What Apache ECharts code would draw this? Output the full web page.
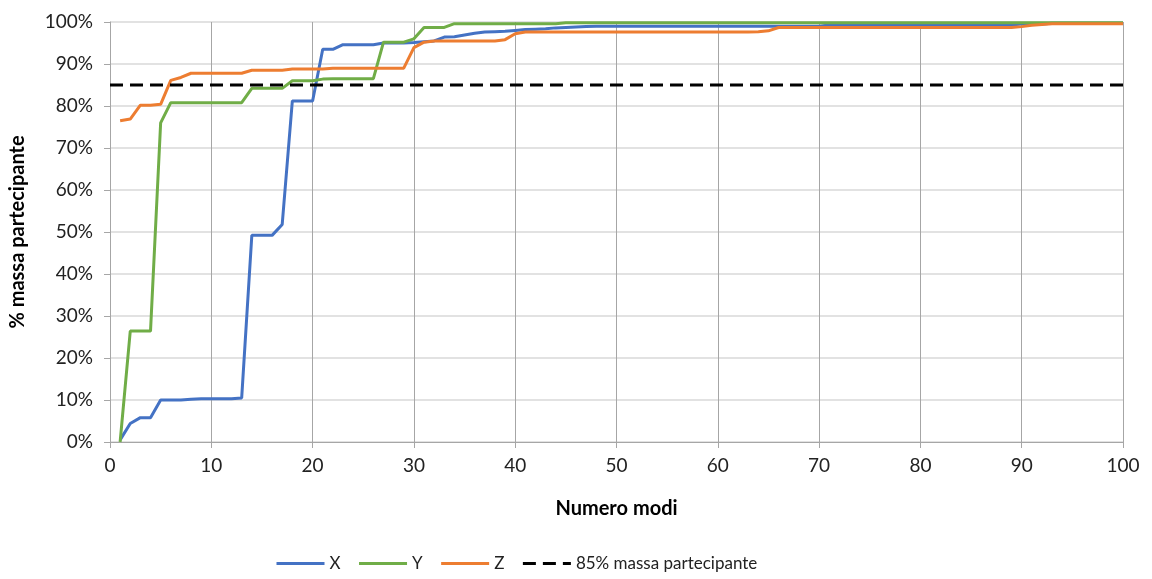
<!DOCTYPE html>
<html>
<head>
<meta charset="utf-8">
<script src="https://cdn.jsdelivr.net/npm/echarts@6/dist/echarts.min.js"></script>
<style>
html,body{margin:0;padding:0;background:#fff;}
#c{width:1152px;height:579px;}
</style>
</head>
<body>
<div id="c"></div>
<script>
const modes = [1,2,3,4,5,6,7,8,9,10,11,12,13,14,15,16,17,18,19,20,
21,22,23,24,25,26,27,28,29,30,31,32,33,34,35,36,37,38,39,40,
41,42,43,44,45,46,47,48,49,50,51,52,53,54,55,56,57,58,59,60,
61,62,63,64,65,66,67,68,69,70,71,72,73,74,75,76,77,78,79,80,
81,82,83,84,85,86,87,88,89,90,91,92,93,94,95,96,97,98,99,100];

const seriesX = [0.5,4.4,5.8,5.8,10.0,10.0,10.0,10.2,10.3,10.3,
10.3,10.3,10.5,49.2,49.2,49.2,51.8,81.2,81.2,81.2,
93.5,93.5,94.6,94.6,94.6,94.6,95.0,95.0,95.0,95.1,
95.3,95.5,96.4,96.5,96.9,97.3,97.6,97.7,97.8,98.0,
98.2,98.3,98.4,98.6,98.7,98.8,98.9,99.0,99.0,99.0,
99.0,99.0,99.0,99.0,99.0,99.0,99.0,99.0,99.0,99.0,
99.0,99.0,99.0,99.0,99.0,99.0,99.0,99.0,99.0,99.0,
99.3,99.3,99.3,99.3,99.3,99.3,99.3,99.3,99.3,99.3,
99.3,99.3,99.3,99.3,99.3,99.3,99.3,99.3,99.3,99.5,
99.5,99.5,99.7,99.7,99.7,99.7,99.7,99.7,99.7,99.7];

const seriesY = [0.0,26.4,26.4,26.4,76.0,80.8,80.8,80.8,80.8,80.8,
80.8,80.8,80.8,84.2,84.2,84.2,84.2,86.0,86.0,86.0,
86.4,86.5,86.5,86.5,86.5,86.5,95.2,95.2,95.2,96.0,
98.7,98.7,98.7,99.6,99.6,99.6,99.6,99.6,99.6,99.6,
99.6,99.6,99.6,99.6,99.8,99.8,99.8,99.8,99.8,99.8,
99.8,99.8,99.8,99.8,99.8,99.8,99.8,99.8,99.8,99.8,
99.8,99.8,99.8,99.8,99.8,99.8,99.8,99.8,99.8,99.8,
99.8,99.8,99.8,99.8,99.8,99.8,99.8,99.8,99.8,99.8,
99.8,99.8,99.8,99.8,99.8,99.8,99.8,99.8,99.8,99.8,
99.8,99.8,99.8,99.8,99.8,99.8,99.8,99.8,99.8,99.8];

const seriesZ = [76.5,76.9,80.2,80.2,80.4,86.1,86.8,87.8,87.8,87.8,
87.8,87.8,87.8,88.5,88.5,88.5,88.5,88.8,88.8,88.8,
88.8,89.0,89.0,89.0,89.0,89.0,89.0,89.0,89.0,93.9,
95.2,95.5,95.5,95.5,95.5,95.5,95.5,95.5,95.8,97.2,
97.6,97.6,97.6,97.6,97.6,97.6,97.6,97.6,97.6,97.6,
97.6,97.6,97.6,97.6,97.6,97.6,97.6,97.6,97.6,97.6,
97.6,97.6,97.6,97.7,97.9,98.7,98.7,98.7,98.7,98.7,
98.7,98.7,98.7,98.7,98.7,98.7,98.7,98.7,98.7,98.7,
98.7,98.7,98.7,98.7,98.7,98.7,98.7,98.7,98.7,98.9,
99.2,99.4,99.6,99.6,99.6,99.6,99.6,99.6,99.6,99.6];

const thresholdX = [0, 100];
const thresholdY = [85, 85];

const names = ['X', 'Y', 'Z', '85% massa partecipante'];
const xTicks = [0,10,20,30,40,50,60,70,80,90,100];
const yTicks = [0,10,20,30,40,50,60,70,80,90,100];

function pairs(xs, ys){ return xs.map((x,i)=>[x, ys[i]]); }

const font = 'Lato, "Open Sans", sans-serif';
const chart = echarts.init(document.getElementById('c'), null, {renderer:'canvas'});
chart.setOption({
  animation:false,
  backgroundColor:'#fff',
  grid:{left:109, right:29, top:22, bottom:137, containLabel:false},
  xAxis:{
    type:'value', min:xTicks[0], max:xTicks[xTicks.length-1], interval:10,
    name:'Numero modi', nameLocation:'middle', nameGap:57,
    nameTextStyle:{fontFamily:font, fontSize:20, fontWeight:'bold', color:'#000'},
    axisLine:{show:true, lineStyle:{color:'#A6A6A6', width:1}},
    axisTick:{show:true, length:6, lineStyle:{color:'#A6A6A6'}},
    axisLabel:{fontFamily:font, fontSize:19, color:'#222', margin:14},
    splitLine:{show:true, lineStyle:{color:'#A6A6A6', width:1}}
  },
  yAxis:{
    type:'value', min:yTicks[0], max:yTicks[yTicks.length-1], interval:10,
    name:'% massa partecipante', nameLocation:'middle', nameGap:82, nameRotate:90,
    nameTextStyle:{fontFamily:font, fontSize:20, fontWeight:'bold', color:'#000'},
    axisLine:{show:true, lineStyle:{color:'#A6A6A6', width:1}},
    axisTick:{show:true, length:6, lineStyle:{color:'#A6A6A6'}},
    axisLabel:{fontFamily:font, fontSize:19, color:'#222', margin:17, formatter:'{value}%'},
    splitLine:{show:true, lineStyle:{color:'#D9D9D9', width:1.5}}
  },
  legend:{
    bottom:2, left:270,
    itemWidth:48, itemHeight:12, itemGap:17,
    itemStyle:{opacity:0},
    lineStyle:{width:3},
    textStyle:{fontFamily:font, fontSize:17, color:'#222'},
    data:names
  },
  series:[
    {name:names[0], type:'line', data:pairs(modes, seriesX), symbol:'none',
     lineStyle:{color:'#4472C4', width:3}, itemStyle:{color:'#4472C4'}},
    {name:names[1], type:'line', data:pairs(modes, seriesY), symbol:'none',
     lineStyle:{color:'#70AD47', width:3}, itemStyle:{color:'#70AD47'}},
    {name:names[2], type:'line', data:pairs(modes, seriesZ), symbol:'none',
     lineStyle:{color:'#ED7D31', width:3}, itemStyle:{color:'#ED7D31'}},
    {name:names[3], type:'line', data:pairs(thresholdX, thresholdY), symbol:'none',
     lineStyle:{color:'#000', width:3, type:[13,7]}, itemStyle:{color:'#000'}}
  ]
});
</script>
</body>
</html>
